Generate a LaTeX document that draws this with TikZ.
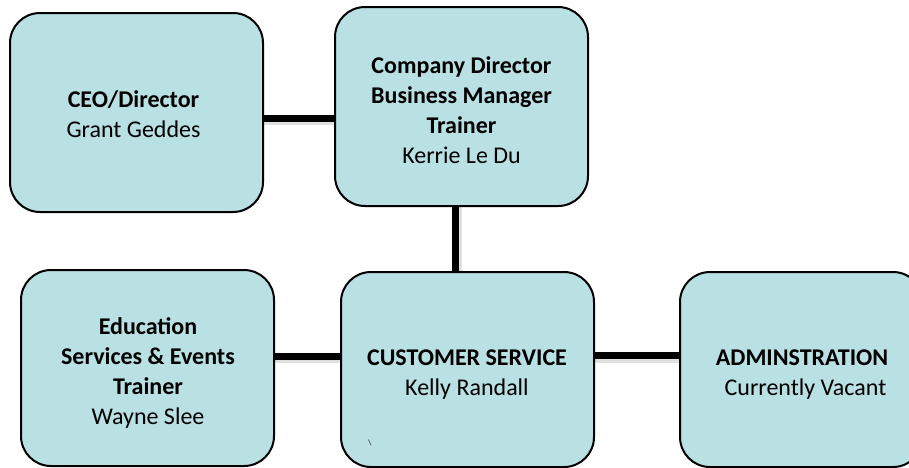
\documentclass[tikz,border=0pt]{standalone}
\usepackage{fontspec}
\setmainfont{Carlito}
\definecolor{boxfill}{RGB}{185,224,227}
\tikzset{
  orgbox/.style={draw=black, line width=2pt, fill=boxfill, rounded corners=30pt,
    inner sep=0pt},
  boxtext/.style={align=center, inner sep=0pt, font=\fontsize{24}{30}\selectfont},
  conn/.style={line width=7pt, draw=black},
  connshadow/.style={line width=8pt, draw=black, opacity=0.12},
}
\begin{document}
\begin{tikzpicture}[x=1pt,y=-1pt]
\useasboundingbox (0,0) rectangle (909,467);
% boxes
\node[orgbox, minimum width=253pt, minimum height=199pt] (ceo) at (136.5,112.5) {};
\node[orgbox, minimum width=253pt, minimum height=199pt] (comp) at (461.5,106.5) {};
\node[orgbox, minimum width=253pt, minimum height=196pt] (edu) at (147.5,368) {};
\node[orgbox, minimum width=253pt, minimum height=195pt] (cust) at (467.5,369.5) {};
\node[orgbox, minimum width=243pt, minimum height=195pt] (adm) at (801.5,369.5) {};
% texts
\node[boxtext] (ceotext) at (133.5,114.5) {\textbf{CEO/Director}\\Grant Geddes};
\node[boxtext] (comptext) at (461.5,110.5)
  {\textbf{Company Director}\\\textbf{Business Manager}\\\textbf{Trainer}\\Kerrie Le Du};
\node[boxtext] (edutext) at (148,372.5)
  {\textbf{Education}\\\textbf{Services \& Events}\\\textbf{Trainer}\\Wayne Slee};
\node[boxtext] (custtext) at (467,374.5) {\textbf{CUSTOMER SERVICE}\\Kelly Randall};
\node[boxtext] (admtext) at (802,374.5) {\textbf{ADMINSTRATION}\\\hspace*{7pt}Currently Vacant};
\node[font=\fontsize{8}{8}\selectfont, inner sep=0pt] (mark) at (370,443) {\textbackslash};
% connector shadows
\draw[connshadow] ([yshift=-8pt]ceo.east) -- ([yshift=-8pt]ceo.east -| comp.west);
\draw[connshadow] ([xshift=-4pt]comp.south) -- ([xshift=-4pt]comp.south |- cust.north);
\draw[connshadow] ([yshift=9pt]edu.east) -- ([yshift=9pt]edu.east -| cust.west);
\draw[connshadow] ([yshift=11pt]cust.east) -- ([yshift=11pt]cust.east -| adm.west);
% connectors
\draw[conn] ([yshift=-5.5pt]ceo.east) -- ([yshift=-5.5pt]ceo.east -| comp.west);
\draw[conn] ([xshift=-6pt]comp.south) -- ([xshift=-6pt]comp.south |- cust.north);
\draw[conn] ([yshift=12pt]edu.east) -- ([yshift=12pt]edu.east -| cust.west);
\draw[conn] ([yshift=14pt]cust.east) -- ([yshift=14pt]cust.east -| adm.west);
\end{tikzpicture}
\end{document}
